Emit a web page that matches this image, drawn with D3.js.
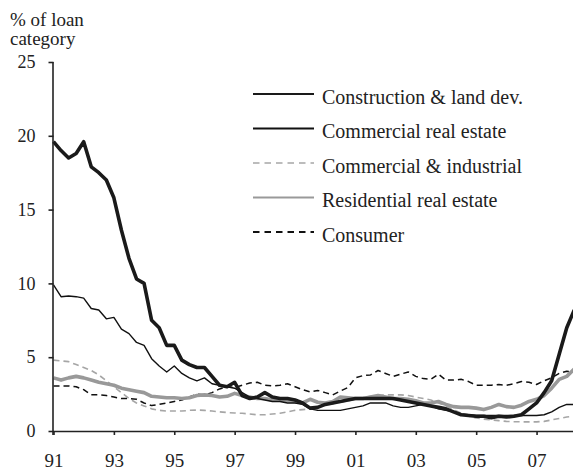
<!DOCTYPE html>
<html>
<head>
<meta charset="utf-8">
<script src="https://cdn.jsdelivr.net/npm/d3@7"></script>
<style>
  body { margin: 0; background: #fff; }
  text { font-family: "Liberation Serif", "Times New Roman", serif; fill: #222; }
</style>
</head>
<body>
<svg id="canvas" width="573" height="472"></svg>
<script>
// quarterly, 1991Q1 .. 2008Q2
let quarters = d3.range(70).map(i => 1991 + i / 4);

let construction = [19.6, 19.0, 18.5, 18.8, 19.6, 17.9, 17.5, 17.0, 15.8, 13.6,
  11.7, 10.3, 10.0, 7.5, 7.0, 5.8, 5.8, 4.8, 4.5, 4.3,
  4.3, 3.7, 3.1, 3.0, 3.3, 2.4, 2.2, 2.3, 2.6, 2.3,
  2.2, 2.2, 2.1, 1.9, 1.55, 1.6, 1.8, 1.9, 2.0, 2.1,
  2.2, 2.2, 2.2, 2.2, 2.2, 2.2, 2.1, 2.0, 1.9, 1.8,
  1.7, 1.6, 1.5, 1.3, 1.1, 1.05, 1.0, 1.0, 0.9, 1.0,
  0.95, 1.0, 1.1, 1.5, 1.9, 2.6, 3.4, 5.2, 7.0, 8.2];

let commercialRE = [9.9, 9.1, 9.15, 9.1, 9.0, 8.3, 8.2, 7.6, 7.7, 6.9,
  6.6, 6.0, 5.8, 4.9, 4.4, 4.0, 4.4, 3.9, 3.6, 3.4,
  3.6, 3.2, 3.1, 3.0, 2.9, 2.6, 2.3, 2.2, 2.1, 2.0,
  2.0, 1.9, 1.9, 1.8, 1.5, 1.4, 1.4, 1.4, 1.4, 1.5,
  1.6, 1.7, 1.9, 1.9, 1.9, 1.7, 1.6, 1.6, 1.7, 1.8,
  1.7, 1.5, 1.4, 1.3, 1.15, 1.1, 1.05, 1.05, 1.05, 1.05,
  1.05, 1.05, 1.05, 1.05, 1.05, 1.1, 1.3, 1.6, 1.8, 1.8];

let commercialInd = [4.8, 4.75, 4.7, 4.5, 4.3, 4.1, 3.8, 3.4, 3.0, 2.6,
  2.2, 1.9, 1.7, 1.5, 1.4, 1.35, 1.35, 1.35, 1.4, 1.42,
  1.4, 1.35, 1.3, 1.25, 1.22, 1.2, 1.15, 1.1, 1.1, 1.15,
  1.2, 1.3, 1.4, 1.45, 1.5, 1.6, 1.75, 1.85, 1.95, 2.05,
  2.15, 2.25, 2.35, 2.4, 2.45, 2.45, 2.45, 2.4, 2.3, 2.2,
  2.1, 1.9, 1.7, 1.45, 1.2, 1.0, 0.88, 0.8, 0.75, 0.7,
  0.65, 0.63, 0.62, 0.62, 0.62, 0.65, 0.75, 0.85, 0.95, 1.0];

let residential = [3.6, 3.45, 3.6, 3.7, 3.6, 3.45, 3.3, 3.2, 3.1, 2.9,
  2.8, 2.7, 2.6, 2.35, 2.3, 2.25, 2.25, 2.2, 2.25, 2.4,
  2.45, 2.4, 2.3, 2.35, 2.55, 2.4, 2.3, 2.2, 2.2, 2.1,
  2.1, 2.05, 2.0, 1.9, 2.15, 1.95, 1.9, 2.0, 2.3, 2.25,
  2.2, 2.2, 2.3, 2.4, 2.3, 2.2, 2.2, 2.15, 2.05, 1.9,
  1.9, 2.0, 1.8, 1.65, 1.6, 1.6, 1.55, 1.45, 1.6, 1.8,
  1.65, 1.6, 1.75, 2.0, 2.15, 2.4, 2.9, 3.5, 3.7, 4.2];

let consumer = [3.05, 3.05, 3.05, 3.0, 2.8, 2.45, 2.45, 2.4, 2.3, 2.2,
  2.2, 2.15, 1.9, 1.72, 1.8, 1.9, 2.0, 2.1, 2.3, 2.5,
  2.45, 2.6, 2.85, 3.0, 2.95, 3.1, 3.25, 3.3, 3.1, 3.05,
  3.1, 3.2, 3.0, 2.8, 2.65, 2.75, 2.6, 2.45, 2.7, 2.95,
  3.6, 3.75, 3.8, 4.1, 3.9, 3.7, 3.85, 4.0, 3.7, 3.55,
  3.5, 3.85, 3.45, 3.45, 3.5, 3.35, 3.1, 3.1, 3.1, 3.15,
  3.1, 3.2, 3.35, 3.3, 3.15, 3.4, 3.6, 3.9, 4.05, 4.0];

let xTickValues = [1991, 1993, 1995, 1997, 1999, 2001, 2003, 2005, 2007];
let xTickLabels = ["91", "93", "95", "97", "99", "01", "03", "05", "07"];
let yTickValues = [0, 5, 10, 15, 20, 25];

let series = [
  { name: "Commercial & industrial", values: commercialInd, color: "#a6a6a6", width: 1.6, dash: "6,4", legendWidth: 1.6, legendDash: "6.5,5" },
  { name: "Consumer", values: consumer, color: "#111", width: 1.5, dash: "6,4", legendWidth: 1.8, legendDash: "6.5,5" },
  { name: "Residential real estate", values: residential, color: "#999", width: 3.6, dash: null, legendWidth: 2, legendDash: null },
  { name: "Commercial real estate", values: commercialRE, color: "#111", width: 1.4, dash: null, legendWidth: 2, legendDash: null },
  { name: "Construction & land dev.", values: construction, color: "#1a1a1a", width: 3.6, dash: null, legendWidth: 2, legendDash: null }
];
let legendOrder = ["Construction & land dev.", "Commercial real estate", "Commercial & industrial", "Residential real estate", "Consumer"];

let canvas = d3.select("#canvas");

let xScale = d3.scaleLinear().domain([1991, 2008.25]).range([53.5, 574.3]);
let yScale = d3.scaleLinear().domain([0, 25]).range([431, 62]);

// lines
let line = (values) => d3.line()
  .x((d, i) => xScale(quarters[i]))
  .y(d => yScale(d))(values);

canvas.selectAll("path.series")
  .data(series)
  .enter()
  .append("path")
  .attr("class", "series")
  .attr("d", s => line(s.values))
  .attr("fill", "none")
  .attr("stroke", s => s.color)
  .attr("stroke-width", s => s.width)
  .attr("stroke-dasharray", s => s.dash)
  .attr("stroke-linejoin", "round");

// axes
let yAxis = d3.axisLeft(yScale).tickValues(yTickValues).tickSize(5).tickPadding(13);
canvas.append("g")
  .attr("transform", "translate(53.5,0)")
  .call(yAxis)
  .call(g => g.select(".domain").attr("d", "M-0.5,62V435"))
  .call(g => g.selectAll("text").attr("font-size", 18).attr("font-family", null).attr("fill", "#222"))
  .call(g => g.selectAll("line, path").attr("stroke", "#222").attr("stroke-width", 1.6));

let xAxis = d3.axisBottom(xScale)
  .tickValues(xTickValues)
  .tickFormat((d, i) => xTickLabels[i])
  .tickSize(4)
  .tickPadding(19);
canvas.append("g")
  .attr("transform", "translate(0,431)")
  .call(xAxis)
  .call(g => g.select(".domain").attr("d", "M53,0.5H573"))
  .call(g => g.selectAll("text").attr("font-size", 19).attr("font-family", null).attr("fill", "#222"))
  .call(g => g.selectAll("line, path").attr("stroke", "#222").attr("stroke-width", 1.6));

// y title
canvas.append("text").attr("x", 10).attr("y", 26).attr("font-size", 19).text("% of loan");
canvas.append("text").attr("x", 10).attr("y", 45).attr("font-size", 19).text("category");

// legend
let legend = canvas.append("g").attr("class", "legend");
legendOrder.forEach((name, i) => {
  let s = series.find(d => d.name === name);
  let y = 94 + i * 34.5;
  legend.append("line")
    .attr("x1", 253).attr("x2", 314)
    .attr("y1", y).attr("y2", y)
    .attr("stroke", s.color)
    .attr("stroke-width", s.legendWidth)
    .attr("stroke-dasharray", s.legendDash);
  legend.append("text")
    .attr("x", 322).attr("y", y + 9.5)
    .attr("font-size", 20)
    .text(name);
});
</script>
</body>
</html>
